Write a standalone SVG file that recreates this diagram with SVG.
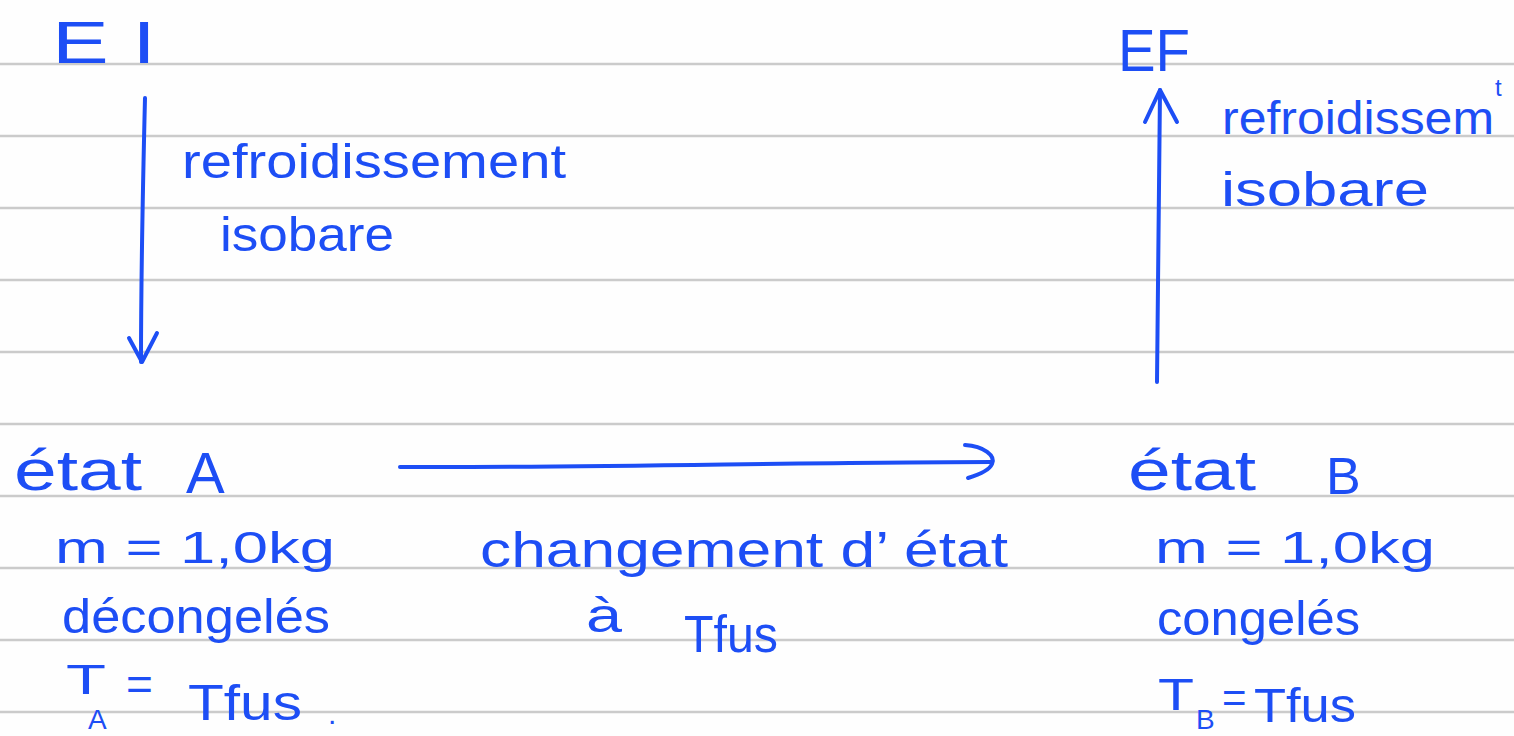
<svg xmlns="http://www.w3.org/2000/svg" width="1514" height="736" viewBox="0 0 1514 736">
<style>
.rule{stroke:#cbcbcb;stroke-width:2.5}
.ink{fill:#1d4ef5;font-family:"Liberation Sans",Arial,sans-serif}
.wire{fill:none;stroke:#1d4ef5;stroke-width:4;stroke-linecap:round;stroke-linejoin:round}
</style>
<rect width="1514" height="736" fill="#fefefe"/>
<g id="rules">
<line class="rule" x1="0" y1="64" x2="1514" y2="64"/>
<line class="rule" x1="0" y1="136" x2="1514" y2="136"/>
<line class="rule" x1="0" y1="208" x2="1514" y2="208"/>
<line class="rule" x1="0" y1="280" x2="1514" y2="280"/>
<line class="rule" x1="0" y1="352" x2="1514" y2="352"/>
<line class="rule" x1="0" y1="424" x2="1514" y2="424"/>
<line class="rule" x1="0" y1="496" x2="1514" y2="496"/>
<line class="rule" x1="0" y1="568" x2="1514" y2="568"/>
<line class="rule" x1="0" y1="640" x2="1514" y2="640"/>
<line class="rule" x1="0" y1="712" x2="1514" y2="712"/>
</g>
<g id="EI">
<text class="ink" x="52" y="63" font-size="60" textLength="104" lengthAdjust="spacingAndGlyphs">E I</text>
</g>
<g id="EF">
<text class="ink" x="1118" y="71" font-size="60" textLength="72" lengthAdjust="spacingAndGlyphs">EF</text>
</g>
<g id="etatA">
<text class="ink" x="14" y="490" font-size="58" textLength="128" lengthAdjust="spacingAndGlyphs">état</text>
<text class="ink" x="186" y="493" font-size="58">A</text>
<text class="ink" x="55" y="563" font-size="44" textLength="280" lengthAdjust="spacingAndGlyphs">m = 1,0kg</text>
<text class="ink" x="62" y="633" font-size="48" textLength="268" lengthAdjust="spacingAndGlyphs">décongelés</text>
<text class="ink" x="66" y="694" font-size="42" textLength="40" lengthAdjust="spacingAndGlyphs">T</text>
<text class="ink" x="88" y="729" font-size="28">A</text>
<text class="ink" x="126" y="700" font-size="46">=</text>
<text class="ink" x="188" y="720" font-size="50" textLength="114" lengthAdjust="spacingAndGlyphs">Tfus</text>
<text class="ink" x="328" y="724" font-size="30">.</text>
</g>
<g id="etatB">
<text class="ink" x="1128" y="490" font-size="58" textLength="128" lengthAdjust="spacingAndGlyphs">état</text>
<text class="ink" x="1326" y="494" font-size="52">B</text>
<text class="ink" x="1155" y="563" font-size="44" textLength="280" lengthAdjust="spacingAndGlyphs">m = 1,0kg</text>
<text class="ink" x="1157" y="635" font-size="48" textLength="203" lengthAdjust="spacingAndGlyphs">congelés</text>
<text class="ink" x="1158" y="710" font-size="44" textLength="36" lengthAdjust="spacingAndGlyphs">T</text>
<text class="ink" x="1196" y="729" font-size="28">B</text>
<text class="ink" x="1222" y="712" font-size="42">=</text>
<text class="ink" x="1254" y="722" font-size="48" textLength="102" lengthAdjust="spacingAndGlyphs">Tfus</text>
</g>
<g id="connectors">
<g id="arrow-EI-A">
<path class="wire" d="M145,98 C143,180 141,280 141,362"/>
<path class="wire" d="M129,338 L142,362 L157,333"/>
<text class="ink" x="182" y="178" font-size="48" textLength="384" lengthAdjust="spacingAndGlyphs">refroidissement</text>
<text class="ink" x="220" y="251" font-size="48" textLength="174" lengthAdjust="spacingAndGlyphs">isobare</text>
</g>
<g id="arrow-A-B">
<path class="wire" d="M400,467 C600,468 800,462 992,462"/>
<path class="wire" d="M965,445 C984,446 996,456 992,464 C989,471 978,475 968,478"/>
<text class="ink" x="480" y="567" font-size="50" textLength="528" lengthAdjust="spacingAndGlyphs">changement  d’ état</text>
<text class="ink" x="586" y="632" font-size="48" textLength="36" lengthAdjust="spacingAndGlyphs">à</text>
<text class="ink" x="684" y="652" font-size="52" textLength="94" lengthAdjust="spacingAndGlyphs">Tfus</text>
</g>
<g id="arrow-B-EF">
<path class="wire" d="M1157,382 C1158,280 1159,180 1160,90"/>
<path class="wire" d="M1145,122 L1160,90 L1177,122"/>
<text class="ink" x="1222" y="134" font-size="46" textLength="272" lengthAdjust="spacingAndGlyphs">refroidissem</text>
<text class="ink" x="1495" y="96" font-size="24">t</text>
<text class="ink" x="1221" y="206" font-size="48" textLength="208" lengthAdjust="spacingAndGlyphs">isobare</text>
</g>
</g>
</svg>
